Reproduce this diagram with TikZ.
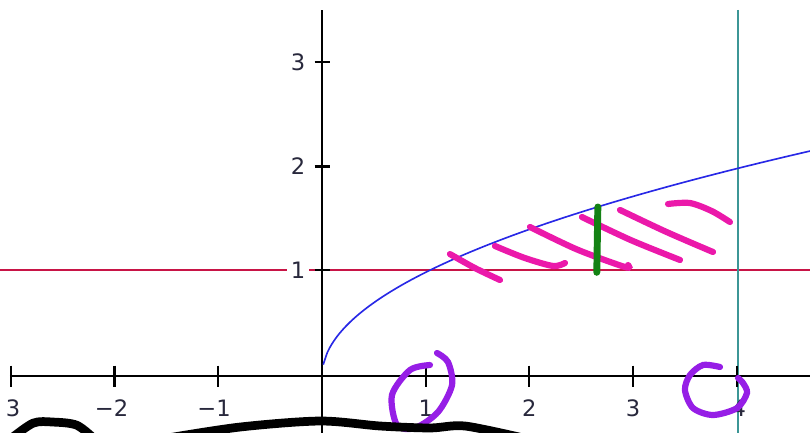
\documentclass[tikz,border=0pt]{standalone}
\usepackage{fontspec}
\setmainfont{DejaVu Sans}
\usetikzlibrary{arrows.meta}

\definecolor{linered}{RGB}{200,20,70}
\definecolor{lineteal}{RGB}{60,150,150}
\definecolor{curveblue}{RGB}{40,40,230}
\definecolor{hatchpink}{RGB}{235,25,170}
\definecolor{markgreen}{RGB}{20,130,20}
\definecolor{ringpurple}{RGB}{150,30,230}
\definecolor{labelgray}{RGB}{40,40,60}

\tikzset{
  tick/.style={line width=0.6pt},
  ticklabel/.style={font=\fontsize{6.2}{7}\selectfont, text=labelgray, inner sep=1pt},
  hatch/.style={hatchpink, line width=1.7pt, line cap=round},
  ring/.style={ringpurple, line width=1.7pt, line cap=round},
  scribble/.style={black, line width=2.4pt, line cap=round}
}

\begin{document}
\begin{tikzpicture}
        \useasboundingbox (-3.105,-0.540) rectangle (4.706,3.626);
        \clip (-3.105,-0.540) rectangle (4.706,3.626);

        % axes
        \coordinate (xl) at (-3.01,0);
        \coordinate (xr) at (4.75,0);
        \coordinate (yb) at (0,-0.6);
        \coordinate (yt) at (0,3.53);
        \draw[line width=0.6pt] (xl) -- (xr);
        \draw[line width=0.6pt] (yb) -- (yt);

        % level line y=1 and the line x=4
        \coordinate (rl) at (-3.2,1.02);
        \coordinate (rr) at (4.8,1.02);
        \draw[linered, line width=0.6pt] (rl) -- (rr);
        \coordinate (tt) at (4.01,3.53);
        \coordinate (tb) at (4.01,-0.6);
        \draw[lineteal, line width=0.7pt] (tt) -- (tb);

        % ticks
        \draw[tick] (-3,0.1) -- (-3,-0.11);
        \draw[tick] (-2,0.1) -- (-2,-0.11);
        \draw[tick] (-1,0.1) -- (-1,-0.11);
        \draw[tick] (1,0.1) -- (1,-0.11);
        \draw[tick] (2,0.1) -- (2,-0.11);
        \draw[tick] (3,0.1) -- (3,-0.11);
        \draw[tick] (4,0.1) -- (4,-0.11);
        \draw[tick] (-0.07,1.02) -- (0.08,1.02);
        \draw[tick] (-0.07,2.02) -- (0.08,2.02);
        \draw[tick] (-0.07,3.03) -- (0.08,3.03);

        \node[ticklabel] (xm3) at (-2.98,-0.31) {3};
        \node[ticklabel] (xm2) at (-2.03,-0.31) {−2};
        \node[ticklabel] (xm1) at (-1.04,-0.31) {−1};
        \node[ticklabel] (x1) at (1.0,-0.31) {1};
        \node[ticklabel] (x2) at (2.0,-0.31) {2};
        \node[ticklabel] (x3) at (3.0,-0.31) {3};
        \node[ticklabel] (x4) at (4.02,-0.31) {4};
        \node[ticklabel, fill=white, anchor=east] (y1) at (-0.12,1.02) {1};
        \node[ticklabel, anchor=east] (y2) at (-0.12,2.02) {2};
        \node[ticklabel, anchor=east] (y3) at (-0.12,3.03) {3};

        % y = sqrt(x)
        \draw[curveblue, line width=0.45pt] plot[domain=0.012:4.8, samples=120, smooth] (\x,{sqrt(\x)});

        % hand marks
        \draw[hatch] plot[smooth] coordinates {(1.234,1.176) (1.475,1.041) (1.716,0.926)};
        \draw[hatch] plot[smooth] coordinates {(1.668,1.254) (1.95,1.14) (2.228,1.061) (2.343,1.090)};
        \draw[hatch] plot[smooth] coordinates {(2.006,1.437) (2.46,1.22) (2.922,1.051) (2.951,1.070)};
        \draw[hatch] plot[smooth] coordinates {(2.507,1.533) (2.98,1.31) (3.452,1.119)};
        \draw[hatch] plot[smooth] coordinates {(2.874,1.601) (3.32,1.39) (3.770,1.196)};
        \draw[hatch] plot[smooth] coordinates {(3.337,1.659) (3.549,1.668) (3.76,1.59) (3.934,1.485)};

        \coordinate (gt) at (2.66,1.63);
        \coordinate (gb) at (2.65,1.00);
        \draw[markgreen, line width=1.9pt, line cap=round] (gt) -- (gb);

        \draw[ring] plot[smooth] coordinates {(1.041,0.106) (0.849,0.058) (0.675,-0.183) (0.723,-0.473)
            (0.897,-0.501) (1.119,-0.347) (1.254,-0.087) (1.215,0.135) (1.109,0.222)};
        \draw[ring] plot[smooth] coordinates {(3.838,0.087) (3.674,0.106) (3.549,0.010) (3.500,-0.135)
            (3.578,-0.309) (3.770,-0.376) (4.002,-0.309) (4.098,-0.164) (4.060,-0.068) (4.012,-0.019)};

        \draw[scribble] plot[smooth] coordinates {(-3.02,-0.62) (-2.787,-0.455) (-2.594,-0.444) (-2.363,-0.475) (-2.18,-0.62)};
        \draw[scribble] plot[smooth] coordinates {(-1.50,-0.60) (-0.791,-0.492) (-0.019,-0.434) (0.559,-0.482)
            (1.041,-0.501) (1.379,-0.482) (1.95,-0.60)};
    \end{tikzpicture}
\end{document}
